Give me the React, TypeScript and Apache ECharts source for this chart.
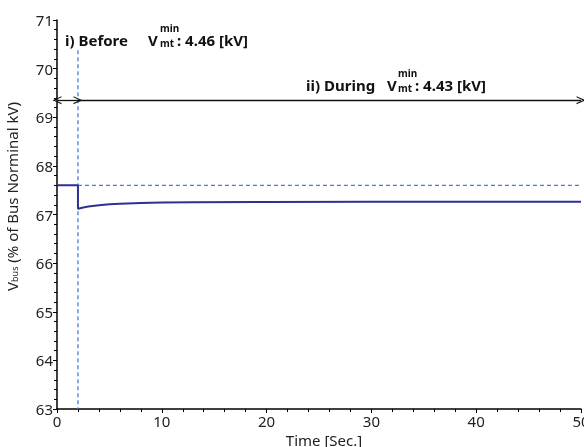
import React, { useEffect, useRef } from "react";
import * as echarts from "echarts";

const timeSec = [0, 2, 2, 2.5, 3, 4, 5, 6, 8, 10, 13, 20, 30, 40, 50];
const vbusPct = [67.6, 67.6, 67.12, 67.145, 67.165, 67.19, 67.21, 67.22, 67.235, 67.245, 67.252, 67.258, 67.26, 67.26, 67.26];
const preLevel = 67.6;
const eventTime = 2;
const eventLineTop = 70.38;
const arrowLevel = 69.35;
const xTicks = [0, 10, 20, 30, 40, 50];
const yTicks = [63, 64, 65, 66, 67, 68, 69, 70, 71];

const FONT = "'Noto Sans', 'Open Sans', sans-serif";
const chevron = "path://M0,10 L5,0 L10,10 L8.6,10 L5,3 L1.4,10 Z";

export default function App() {
  const ref = useRef<HTMLDivElement>(null);
  useEffect(() => {
    if (!ref.current) return;
    const chart = echarts.init(ref.current, null, { renderer: "svg" });
    const boldText = (text: string, x: number, y: number, size = 15) => ({
      type: "text",
      left: x,
      top: y,
      style: { text, fontFamily: FONT, fontWeight: "bold", fontSize: size, fill: "#111" },
    });
    const small = (text: string, x: number, y: number) => ({
      type: "text",
      left: x,
      top: y,
      style: { text, fontFamily: FONT, fontWeight: "bold", fontSize: 10, fill: "#111" },
    });
    const dashed = { color: "#3f7fdc", type: [4, 3], width: 1.3, opacity: 1 };
    const solid = { color: "#111", type: "solid", width: 1.3, opacity: 1 };
    const xMax = xTicks[xTicks.length - 1];
    chart.setOption({
      animation: false,
      grid: { left: 57, top: 20, width: 524, height: 389, containLabel: false, outerBoundsMode: "none" },
      xAxis: {
        type: "value",
        min: xTicks[0],
        max: xMax,
        interval: 10,
        name: "Time [Sec.]",
        nameLocation: "middle",
        nameGap: 21,
        nameTextStyle: { fontFamily: FONT, fontSize: 15, color: "#222", padding: [0, 0, 0, 10] },
        axisLine: { lineStyle: { color: "#000", width: 1.5 } },
        axisTick: { length: 4, lineStyle: { color: "#000" } },
        minorTick: { show: true, splitNumber: 5, length: 3, lineStyle: { color: "#000" } },
        axisLabel: { fontFamily: FONT, fontSize: 15, color: "#222", margin: 4 },
        splitLine: { show: false },
      },
      yAxis: {
        type: "value",
        min: yTicks[0],
        max: yTicks[yTicks.length - 1],
        interval: 1,
        name: "V{sub|bus} (% of Bus Norminal kV)",
        nameLocation: "middle",
        nameGap: 38,
        nameTextStyle: {
          fontFamily: FONT,
          fontSize: 15,
          color: "#222",
          padding: [0, 0, 0, 36],
          rich: { sub: { fontFamily: FONT, fontSize: 9, color: "#222", verticalAlign: "bottom", padding: [6, 0, 0, 0] } },
        },
        axisLine: { show: true, lineStyle: { color: "#000", width: 1.5 } },
        axisTick: { show: true, length: 4, lineStyle: { color: "#000" } },
        minorTick: { show: true, splitNumber: 5, length: 3, lineStyle: { color: "#000" } },
        axisLabel: { fontFamily: FONT, fontSize: 15, color: "#222", margin: 4 },
        splitLine: { show: false },
      },
      series: [
        {
          type: "line",
          data: timeSec.map((t, i) => [t, vbusPct[i]]),
          showSymbol: false,
          lineStyle: { color: "#2e3192", width: 2 },
          z: 5,
        },
        {
          type: "line",
          data: [[eventTime, preLevel], [xMax, preLevel]],
          showSymbol: false,
          silent: true,
          lineStyle: dashed,
          z: 3,
        },
        {
          type: "line",
          data: [[eventTime, eventLineTop], [eventTime, yTicks[0]]],
          showSymbol: false,
          silent: true,
          lineStyle: dashed,
          z: 3,
        },
        {
          type: "line",
          data: [],
          silent: true,
          markLine: {
            silent: true,
            animation: false,
            label: { show: false },
            symbolSize: [8, 9],
            lineStyle: solid,
            data: [
              [
                { coord: [0, arrowLevel], symbol: chevron, lineStyle: solid },
                { coord: [eventTime, arrowLevel], symbol: chevron },
              ],
              [
                { coord: [eventTime, arrowLevel], symbol: "none", lineStyle: solid },
                { coord: [xMax, arrowLevel], symbol: chevron },
              ],
            ],
          },
        },
      ],
      graphic: [
        boldText("i) Before", 65, 32),
        boldText("V", 148, 32),
        small("min", 160, 23),
        small("mt", 160, 38),
        boldText(": 4.46 [kV]", 177, 32),
        boldText("ii) During", 306, 77),
        boldText("V", 387, 77),
        small("min", 398, 68),
        small("mt", 398, 83),
        boldText(": 4.43 [kV]", 415, 77),
      ],
    });
    return () => chart.dispose();
  }, []);
  return <div ref={ref} style={{ position: "fixed", left: 0, top: 0, width: 584, height: 447 }} />;
}
